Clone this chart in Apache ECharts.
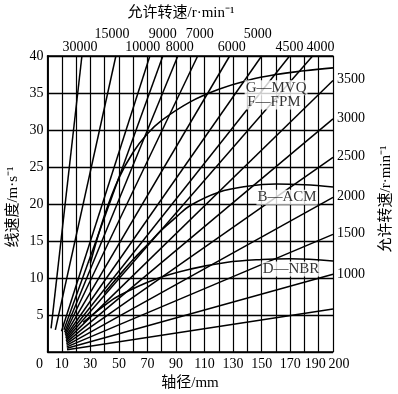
<!DOCTYPE html>
<html><head><meta charset="utf-8">
<script src="https://cdn.jsdelivr.net/npm/echarts@6/dist/echarts.min.js"></script>
<style>html,body{margin:0;padding:0;background:#fff}#c{width:398px;height:394px}</style>
</head><body><div id="c"></div>
<script>
// ---- data ----
const topRpmLow  = [30000, 10000, 8000, 6000, 4500, 4000];
const topLabelDLow = [22.7, 66.8, 92.7, 129.0, 169.6, 191.3];
const topRpmUp   = [15000, 9000, 7000, 5000];
const topLabelDUp = [45.1, 80.8, 106.6, 147.2];
const rightRpm = [3500, 3000, 2500, 2000, 1500, 1000];
const rightLabelV = [36.9, 31.6, 26.5, 21.0, 16.1, 10.5];
const bottomLabels = [0, 10, 30, 50, 70, 90, 110, 130, 150, 170, 190];
const bottomEndLabel = [200];

const lineRpm    = [30000, 15000, 10000, 9000, 8000, 7000, 6000, 5000, 4500, 4000, 3500, 3000, 2500, 2000, 1500, 1000, 500];
const lineStartD = [2.5, 5.5, 9.8, 11.5, 12.0, 12.3, 12.5, 12.7, 12.8, 13.0, 13.0, 13.2, 13.3, 13.4, 13.5, 13.6, 13.7];
const lineStartV = [3.2, 3.0, 2.8, 3.0, 2.7, 2.5, 2.3, 2.1, 1.9, 1.7, 1.5, 1.3, 1.1, 0.9, 0.7, 0.5, 0.3];
const lineEndD   = [24.1, 47.9, 71.7, 80.8, 91.3, 105.2, 127.6, 150.0, 169.6, 185.7, 200, 200, 200, 200, 200, 200, 200];
const lineEndV   = [40, 40, 40, 40, 40, 40, 40, 40, 40, 40, 36.7, 31.5, 26.3, 20.9, 15.9, 10.5, 5.8];

const mvqD = [30, 40, 50, 60, 70, 80, 100, 120, 140, 160, 180, 200];
const mvqV = [12, 18.5, 23.5, 27, 29.5, 31.3, 33.8, 35.5, 36.7, 37.5, 38.0, 38.4];
const acmD = [40, 50, 60, 70, 80, 90, 100, 120, 140, 160, 180, 200];
const acmV = [8, 10.3, 12.5, 14.5, 16.5, 18.2, 19.8, 21.6, 22.4, 22.7, 22.6, 22.3];
const nbrD = [25, 40, 50, 75, 100, 125, 150, 170, 200];
const nbrV = [4, 6.3, 7.6, 9.8, 11.2, 12.1, 12.5, 12.6, 12.3];

const curveLabels = ['G—MVQ', 'F—FPM', 'B—ACM', 'D—NBR'];
const curveLabelD = [160.1, 158.6, 167.8, 170.6];
const curveLabelV = [35.7, 33.8, 20.9, 11.2];

// ---- chart ----
const SERIF = '"Liberation Serif","Noto Sans CJK SC",serif';
const INK = '#000';
const chart = echarts.init(document.getElementById('c'), null, {renderer: 'canvas'});

const series = [];
lineRpm.forEach((n, i) => {
  series.push({
    type: 'line', name: 'rpm' + n, silent: true, symbol: 'none', animation: false,
    lineStyle: {color: INK, width: 1.5},
    data: [[lineStartD[i], lineStartV[i]], [lineEndD[i], lineEndV[i]]]
  });
});
[[mvqD, mvqV], [acmD, acmV], [nbrD, nbrV]].forEach(([d, v]) => {
  series.push({
    type: 'line', silent: true, symbol: 'none', smooth: 0.4, animation: false,
    lineStyle: {color: INK, width: 1.6},
    data: d.map((x, i) => [x, v[i]])
  });
});
series.push({
  type: 'scatter', silent: true, symbolSize: 0, z: 10, animation: false,
  data: curveLabels.map((t, i) => ({value: [curveLabelD[i], curveLabelV[i]], name: t})),
  label: {
    show: true, position: 'inside', formatter: p => p.name,
    fontFamily: SERIF, fontSize: 15, color: INK, backgroundColor: '#fff', padding: [0, 1]
  }
});

const shiftStyle = {
  z: [0, 16, 0, 0],   // "0" sits left of the corner
  a: [0, 7, 0, 0],    // "190" nudged left
  b: [0, 0, 0, 12]    // "200" nudged right
};
const rich = {};
Object.keys(shiftStyle).forEach(k => {
  rich[k] = {fontFamily: SERIF, fontSize: 14, color: INK, padding: shiftStyle[k]};
});
function richName(v, name) {
  if (v === 0) return '{z|' + name + '}';
  if (v === 190) return '{a|' + name + '}';
  if (v === 200) return '{b|' + name + '}';
  return String(name);
}

function labelAxis(pos, vals, names, offset, showLine, margin, useRich) {
  return {
    type: 'value', min: 0, max: 200, position: pos, offset: offset,
    axisLine: {show: showLine, lineStyle: {color: INK, width: 1.5}},
    axisTick: {show: false}, splitLine: {show: false},
    axisLabel: {
      margin: margin, fontFamily: SERIF, fontSize: 14, color: INK,
      showMinLabel: true, showMaxLabel: true, hideOverlap: false,
      customValues: vals,
      formatter: v => {
        const i = vals.indexOf(v);
        if (i < 0) return '';
        return useRich ? richName(v, names[i]) : String(names[i]);
      },
      rich: rich
    }
  };
}

chart.setOption({
  animation: false,
  backgroundColor: '#fff',
  grid: {left: 47.5, right: 65, top: 56, bottom: 42, containLabel: false},
  xAxis: [{
    type: 'value', min: 0, max: 200, interval: 10, position: 'bottom',
    axisLine: {show: true, lineStyle: {color: INK, width: 1.5}},
    axisTick: {show: false},
    splitLine: {show: true, lineStyle: {color: INK, width: 1.2}},
    axisLabel: {show: false}
  },
  labelAxis('bottom', bottomLabels, bottomLabels, 0, false, 5, true),
  labelAxis('bottom', bottomEndLabel, bottomEndLabel, 0, false, 5, true),
  labelAxis('top', topLabelDLow, topRpmLow, 0, true, 2, false),
  labelAxis('top', topLabelDUp, topRpmUp, 13, false, 2, false)
  ],
  yAxis: [{
    type: 'value', min: 0, max: 40, interval: 5, position: 'left',
    axisLine: {show: true, lineStyle: {color: INK, width: 1.5}},
    axisTick: {show: false},
    splitLine: {show: true, lineStyle: {color: INK, width: 1.3}},
    axisLabel: {margin: 4, fontFamily: SERIF, fontSize: 14, color: INK,
      formatter: v => v === 0 ? '' : String(v)}
  }, {
    type: 'value', min: 0, max: 40, position: 'right',
    axisLine: {show: true, lineStyle: {color: INK, width: 1.5}},
    axisTick: {show: false}, splitLine: {show: false},
    axisLabel: {
      margin: 4, fontFamily: SERIF, fontSize: 14, color: INK,
      showMinLabel: true, showMaxLabel: true, hideOverlap: false,
      customValues: rightLabelV,
      formatter: v => { const i = rightLabelV.indexOf(v); return i < 0 ? '' : String(rightRpm[i]); }
    }
  }],
  graphic: [
    {type: 'text', x: 181, y: 13, style: {text: '允许转速/r·min⁻¹', font: '15px ' + SERIF, fill: INK, align: 'center', verticalAlign: 'middle', textAlign: 'center', textVerticalAlign: 'middle'}},
    {type: 'text', x: 190, y: 383, style: {text: '轴径/mm', font: '15px ' + SERIF, fill: INK, align: 'center', verticalAlign: 'middle', textAlign: 'center', textVerticalAlign: 'middle'}},
    {type: 'text', x: 13, y: 207, rotation: Math.PI / 2, style: {text: '线速度/m·s⁻¹', font: '15px ' + SERIF, fill: INK, align: 'center', verticalAlign: 'middle', textAlign: 'center', textVerticalAlign: 'middle'}},
    {type: 'text', x: 386, y: 199, rotation: Math.PI / 2, style: {text: '允许转速/r·min⁻¹', font: '15px ' + SERIF, fill: INK, align: 'center', verticalAlign: 'middle', textAlign: 'center', textVerticalAlign: 'middle'}}
  ],
  series: series
});
</script></body></html>
